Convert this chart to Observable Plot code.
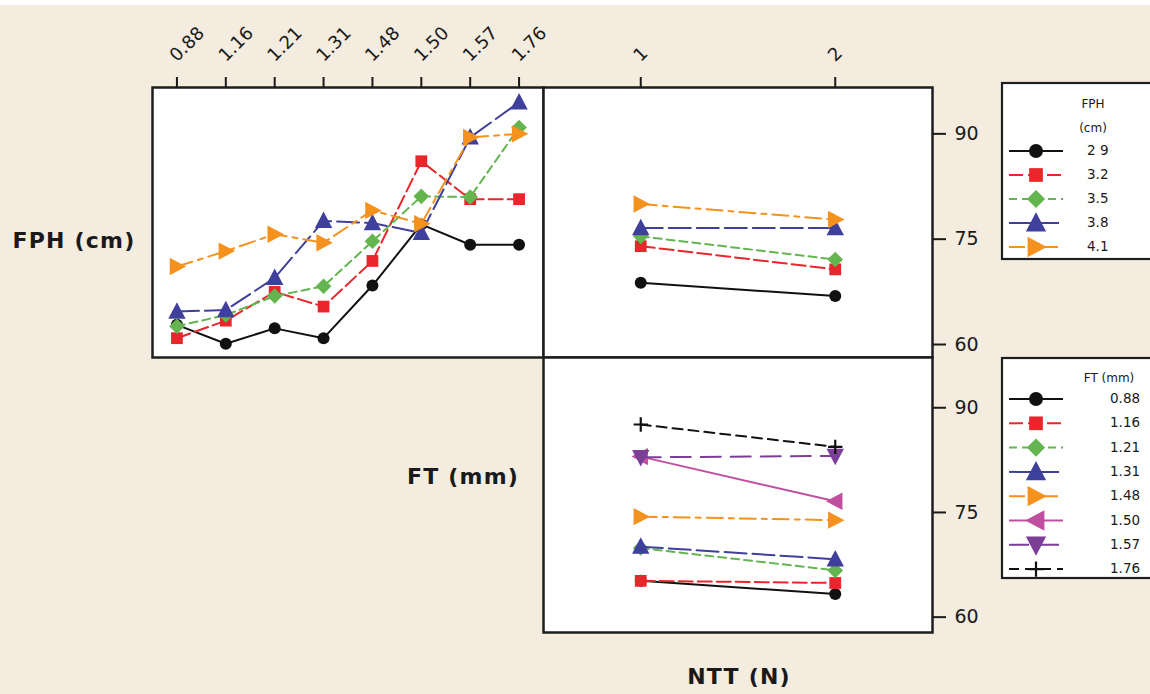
<!DOCTYPE html>
<html><head><meta charset="utf-8">
<script src="https://cdn.jsdelivr.net/npm/d3@7"></script>
<script src="https://cdn.jsdelivr.net/npm/@observablehq/plot@0.6"></script>
<style>
html,body{margin:0;padding:0;background:#fff;}
#root{position:relative;width:1150px;height:694px;background:#F3ECDF;overflow:hidden;font-family:"DejaVu Sans",sans-serif;color:#1a1a1a;}
#topstrip{position:absolute;left:0;top:0;width:1150px;height:5px;background:#fff;}
.abs{position:absolute;}
.abs svg{overflow:visible;max-width:none;}
.lab{position:absolute;font-weight:bold;font-size:22px;letter-spacing:1.2px;white-space:nowrap;transform:translate(-50%,-50%);color:#1a1a1a;}
</style></head><body><div id="root"><div id="topstrip"></div></div>
<script>
// ---------- data ----------
const ftLevels = ["0.88","1.16","1.21","1.31","1.48","1.50","1.57","1.76"];
const fphLevels = ["2 9","3.2","3.5","3.8","4.1"];
const nttLevels = ["1","2"];
const yTicks = [60,75,90];

// FPH level means across FT (top-left panel)
const fph29ByFT = [62.8,60.1,62.3,60.9,68.4,77.1,74.2,74.2];
const fph32ByFT = [60.9,63.4,67.5,65.4,71.9,86.1,80.7,80.7];
const fph35ByFT = [62.6,64.2,66.9,68.3,74.7,81.1,81.0,90.9];
const fph38ByFT = [64.7,64.9,69.5,77.6,77.3,75.9,89.5,94.5];
const fph41ByFT = [71.1,73.3,75.7,74.5,79.1,77.2,89.5,90.0];

// FPH level means across NTT (top-right panel)
const fph29ByNTT = [68.8,66.9];
const fph32ByNTT = [74.0,70.7];
const fph35ByNTT = [75.4,72.1];
const fph38ByNTT = [76.6,76.6];
const fph41ByNTT = [80.0,77.8];

// FT level means across NTT (bottom-right panel)
const ft088ByNTT = [65.2,63.3];
const ft116ByNTT = [65.2,64.9];
const ft121ByNTT = [69.9,66.7];
const ft131ByNTT = [70.1,68.3];
const ft148ByNTT = [74.4,73.9];
const ft150ByNTT = [83.0,76.6];
const ft157ByNTT = [82.9,83.1];
const ft176ByNTT = [87.6,84.4];

// ---------- symbols ----------
function sym(f){ return {draw(c, size){ const r = Math.sqrt(size/Math.PI); f(c, r); }}; }
const symCircle = sym((c,r)=>{c.moveTo(r,0); c.arc(0,0,r,0,2*Math.PI);});
const symSquare = sym((c,r)=>{const s=r*0.98; c.rect(-s,-s,2*s,2*s);});
const symDiamond = sym((c,r)=>{const s=r*1.3; c.moveTo(0,-s); c.lineTo(s,0); c.lineTo(0,s); c.lineTo(-s,0); c.closePath();});
const symTriUp = sym((c,r)=>{c.moveTo(0,-1.55*r); c.lineTo(1.45*r,1.2*r); c.lineTo(-1.45*r,1.2*r); c.closePath();});
const symTriDown = sym((c,r)=>{c.moveTo(0,1.55*r); c.lineTo(1.45*r,-1.2*r); c.lineTo(-1.45*r,-1.2*r); c.closePath();});
const symTriRight = sym((c,r)=>{c.moveTo(1.55*r,0); c.lineTo(-1.2*r,1.45*r); c.lineTo(-1.2*r,-1.45*r); c.closePath();});
const symTriLeft = sym((c,r)=>{c.moveTo(-1.55*r,0); c.lineTo(1.2*r,1.45*r); c.lineTo(1.2*r,-1.45*r); c.closePath();});
const symPlus = sym((c,r)=>{const s=r*1.1; c.moveTo(-s,0); c.lineTo(s,0); c.moveTo(0,-s); c.lineTo(0,s);});

// ---------- styles ----------
const fphStyles = [
  {color:"#111111", dash:null, symbol:symCircle},
  {color:"#E8262B", dash:"14,5", symbol:symSquare},
  {color:"#64B450", dash:"8,5", symbol:symDiamond},
  {color:"#3F3F9C", dash:"22,6", symbol:symTriUp},
  {color:"#F5921E", dash:"16,6,5,6", symbol:symTriRight}
];
const ftStyles = [
  {color:"#111111", dash:null, symbol:symCircle},
  {color:"#E8262B", dash:"14,5", symbol:symSquare},
  {color:"#64B450", dash:"8,5", symbol:symDiamond},
  {color:"#3F3F9C", dash:"22,6", symbol:symTriUp},
  {color:"#F5921E", dash:"16,6,5,6", symbol:symTriRight},
  {color:"#C04FA0", dash:null, symbol:symTriLeft},
  {color:"#7B3F98", dash:"20,10", symbol:symTriDown},
  {color:"#111111", dash:"10,6", symbol:symPlus, stroked:true}
];

const fphByFT = [fph29ByFT,fph32ByFT,fph35ByFT,fph38ByFT,fph41ByFT];
const fphByNTT = [fph29ByNTT,fph32ByNTT,fph35ByNTT,fph38ByNTT,fph41ByNTT];
const ftByNTT = [ft088ByNTT,ft116ByNTT,ft121ByNTT,ft131ByNTT,ft148ByNTT,ft150ByNTT,ft157ByNTT,ft176ByNTT];

function seriesMarks(xLevels, valuesList, styles){
  const marks = [];
  valuesList.forEach((vals, k) => {
    const st = styles[k];
    const rows = vals.map((v,i) => ({x: xLevels[i], y: v}));
    marks.push(Plot.line(rows, {x:"x", y:"y", stroke: st.color, strokeWidth: 2, strokeDasharray: st.dash || undefined}));
    if (st.stroked) marks.push(Plot.dot(rows, {x:"x", y:"y", r:6.5, symbol: st.symbol, stroke: st.color, strokeWidth: 2.2, fill: "none"}));
    else marks.push(Plot.dot(rows, {x:"x", y:"y", r:6, symbol: st.symbol, fill: st.color, stroke: "none"}));
  });
  return marks;
}
function topAxis(){
  return [
    Plot.axisX({anchor:"top", tickSize:11, strokeWidth:2, tickFormat: () => "", label:null}),
    Plot.axisX({anchor:"top", tickSize:0, tickRotate:-45, tickPadding:29, dx:-4, fontSize:18, label:null})
  ];
}

const root = document.getElementById("root");
function place(node, left, top){
  const d = document.createElement("div");
  d.className = "abs"; d.style.left = left+"px"; d.style.top = top+"px";
  d.appendChild(node); root.appendChild(d);
}
const baseStyle = {background:"transparent", fontFamily:"DejaVu Sans, sans-serif", fontSize:"18px", color:"#1a1a1a", overflow:"visible"};
const frameStroke = "#1e1e1e";

// ---------- panel A: FPH by FT ----------
const mA = {l:10, r:10, t:87, b:5};
const A = Plot.plot({
  width: mA.l + 391 + mA.r, height: mA.t + 270 + mA.b,
  marginLeft: mA.l, marginRight: mA.r, marginTop: mA.t, marginBottom: mA.b,
  style: baseStyle,
  x: {type:"point", domain: ftLevels, padding: 0.5, round: false},
  y: {domain: [58.15, 96.6], axis: null},
  marks: [
    Plot.frame({fill:"white", stroke:"none"}),
    ...seriesMarks(ftLevels, fphByFT, fphStyles),
    Plot.frame({stroke: frameStroke, strokeWidth: 2.5}),
    ...topAxis()
  ]
});
place(A, 152 - mA.l, 0);

// ---------- panel B: FPH by NTT ----------
const mB = {l:5, r:70, t:87, b:5};
const B = Plot.plot({
  width: mB.l + 389 + mB.r, height: mB.t + 270 + mB.b,
  marginLeft: mB.l, marginRight: mB.r, marginTop: mB.t, marginBottom: mB.b,
  style: baseStyle,
  x: {type:"point", domain: nttLevels, padding: 0.5, round: false},
  y: {domain: [58.15, 96.6]},
  marks: [
    Plot.frame({fill:"white", stroke:"none"}),
    ...seriesMarks(nttLevels, fphByNTT, fphStyles),
    Plot.frame({stroke: frameStroke, strokeWidth: 2.5}),
    ...topAxis(),
    Plot.axisY({anchor:"right", ticks: yTicks, tickSize:13, tickPadding:9, strokeWidth:2, fontSize:19, label:null})
  ]
});
place(B, 543 - mB.l, 0);

// ---------- panel C: FT by NTT ----------
const mC = {l:5, r:70, t:5, b:5};
const C = Plot.plot({
  width: mC.l + 389 + mC.r, height: mC.t + 275 + mC.b,
  marginLeft: mC.l, marginRight: mC.r, marginTop: mC.t, marginBottom: mC.b,
  style: baseStyle,
  x: {type:"point", domain: nttLevels, padding: 0.5, round: false, axis: null},
  y: {domain: [57.8, 97.2]},
  marks: [
    Plot.frame({fill:"white", stroke:"none"}),
    ...seriesMarks(nttLevels, ftByNTT, ftStyles),
    Plot.frame({stroke: frameStroke, strokeWidth: 2.5}),
    Plot.axisY({anchor:"right", ticks: yTicks, tickSize:13, tickPadding:9, strokeWidth:2, fontSize:19, label:null})
  ]
});
place(C, 543 - mC.l, 357 - mC.t);

// ---------- legends ----------
function legend(left, top, w, h, titleLines, titleX, titleY0, titleDy, labels, styles, rowY0, rowDy, labelX){
  const svg = d3.create("svg").attr("width", w).attr("height", h).style("overflow","visible");
  svg.append("rect").attr("x",1).attr("y",1).attr("width",w+20).attr("height",h-2)
    .attr("fill","white").attr("stroke",frameStroke).attr("stroke-width",2.2);
  titleLines.forEach((t,i)=> svg.append("text").attr("x",titleX).attr("y",titleY0+i*titleDy)
    .attr("text-anchor","middle").attr("dominant-baseline","middle")
    .attr("font-family","DejaVu Sans, sans-serif").attr("font-size",12).attr("fill","#1a1a1a").text(t));
  labels.forEach((lab,i)=>{
    const st = styles[i], y = rowY0 + i*rowDy;
    svg.append("line").attr("x1",8).attr("x2",62).attr("y1",y).attr("y2",y)
      .attr("stroke",st.color).attr("stroke-width",2).attr("stroke-dasharray", st.dash || null);
    const p = d3.path(); st.symbol.draw(p, Math.PI*7*7);
    const g = svg.append("path").attr("d", p.toString()).attr("transform",`translate(35,${y})`);
    if (st.stroked) g.attr("fill","none").attr("stroke",st.color).attr("stroke-width",2.2);
    else g.attr("fill",st.color);
    svg.append("text").attr("x",labelX).attr("y",y).attr("dominant-baseline","middle")
      .attr("font-family","DejaVu Sans, sans-serif").attr("font-size",13.5).attr("fill","#1a1a1a").text(lab);
  });
  place(svg.node(), left, top);
}
legend(1001, 82, 160, 178, ["FPH","(cm)"], 92, 22, 24, fphLevels, fphStyles, 69, 24, 86);
legend(1001, 357, 160, 222, ["FT (mm)"], 108, 21, 0, ftLevels, ftStyles, 42, 24.3, 109);

// ---------- factor labels ----------
function label(text, cx, cy){
  const d = document.createElement("div"); d.className = "lab";
  d.style.left = cx+"px"; d.style.top = cy+"px"; d.textContent = text; root.appendChild(d);
}
label("FPH (cm)", 74, 240);
label("FT (mm)", 463, 476);
label("NTT (N)", 739, 676);
</script></body></html>
